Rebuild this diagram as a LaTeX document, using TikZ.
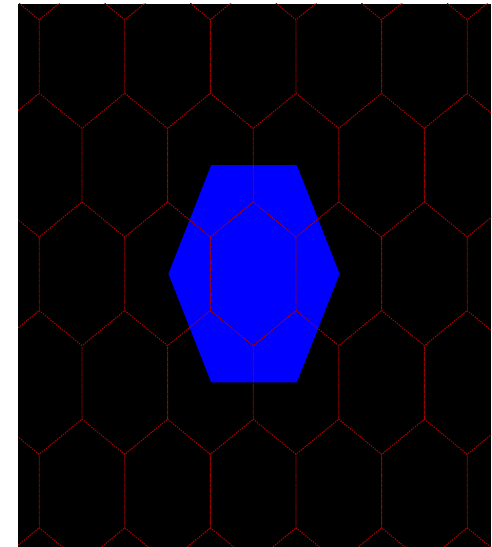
\documentclass[tikz,border=0pt]{standalone}
\definecolor{gridred}{RGB}{170,0,0}
\tikzset{
    cellline/.style={draw=gridred, line width=0.5pt, dash pattern=on 0.6pt off 0.8pt},
}
\begin{document}
\begin{tikzpicture}[x=0.02cm, y=-0.02cm] % one unit = one pixel, y pointing down
    % Page with the black field
    \useasboundingbox (0,0) rectangle (491,547);
    \fill[black] (18,4) rectangle (491,547);

    % Blue hexagon through the centres of the six neighbouring cells
    \fill[blue] (211.2,165.15) -- (296.8,165.15) -- (339.6,273.8)
        -- (296.8,382.45) -- (211.2,382.45) -- (168.4,273.8) -- cycle;

    % Hexagonal cells (pointy top), odd rows shifted by half a cell
    \begin{scope}
        \clip (18,4) rectangle (491,547);
        \foreach \r in {0,...,7} {
            \foreach \c in {-1,...,6} {
                \pgfmathsetmacro{\cx}{82 + 85.6*\c - 42.8*mod(\r+1,2)}
                \pgfmathsetmacro{\cy}{56.5 + 108.65*(\r-1)}
                \draw[cellline] (\cx,\cy-71.9) -- (\cx+42.8,\cy-36.75)
                    -- (\cx+42.8,\cy+36.75) -- (\cx,\cy+71.9)
                    -- (\cx-42.8,\cy+36.75) -- (\cx-42.8,\cy-36.75) -- cycle;
            }
        }
    \end{scope}
\end{tikzpicture}
\end{document}
